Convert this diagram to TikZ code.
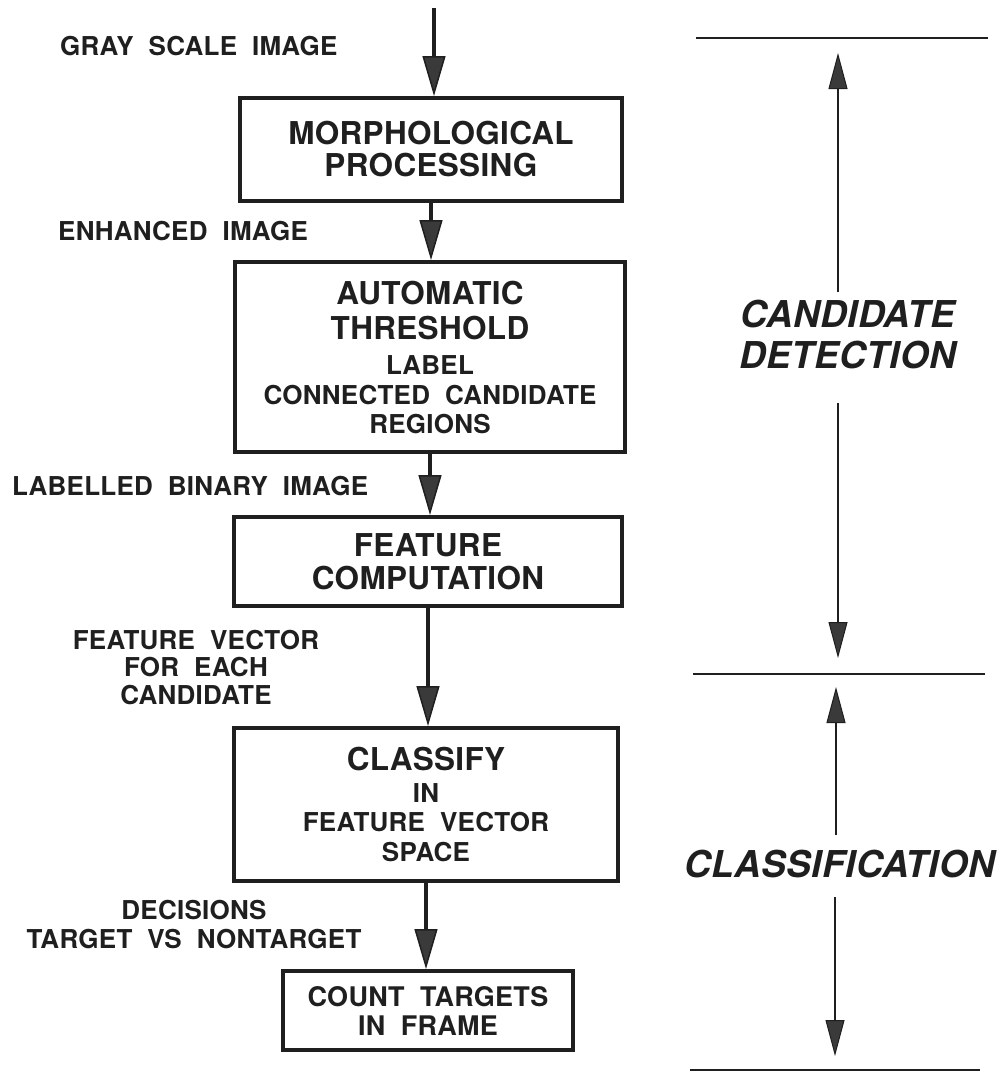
\documentclass[tikz,border=0pt]{standalone}
\usepackage{fontspec}
\setmainfont{TeX Gyre Heros}[WordSpace=2.0, LetterSpace=1.0]
\usetikzlibrary{arrows.meta}
\definecolor{ink}{HTML}{1F1F1F}
\definecolor{headfill}{HTML}{3A3A3A}
\newcommand\lsz{\fontsize{26}{29}\selectfont}
\begin{document}
\begin{tikzpicture}[x=1pt,y=-1pt,
  box/.style={draw=ink, line width=4pt, inner sep=0pt, align=center, text=ink,
              font=\bfseries\fontsize{31.5}{29}\selectfont},
  lab/.style={inner sep=0pt, align=center, text=ink, font=\bfseries\fontsize{26}{27.5}\selectfont},
  side/.style={inner sep=0pt, align=center, text=ink, font=\bfseries\itshape\fontsize{37}{41}\selectfont},
  flow/.style={draw=ink, line width=4pt, -{Triangle[length=40pt,width=23pt,line width=1.5pt,fill=headfill]}},
  span/.style={draw=ink, line width=2pt, -{Triangle[length=36pt,width=19pt,line width=1pt,fill=headfill]}},
  rule/.style={draw=ink, line width=2.5pt}]
\useasboundingbox (0,0) rectangle (1004,1074);

% process boxes
\node[box, minimum width=382pt, minimum height=103pt] (b1) at (431,149.5)
  {MORPHOLOGICAL\\[3pt]PROCESSING};
\node[box, minimum width=390pt, minimum height=190pt] (b2) at (430,357)
  {AUTOMATIC\\[6pt]THRESHOLD\\[6pt]{\lsz LABEL}\\[1pt]{\lsz CONNECTED CANDIDATE}\\{\lsz REGIONS}};
\node[box, minimum width=388pt, minimum height=89pt] (b3) at (428,561.5)
  {FEATURE\\[4pt]COMPUTATION};
\node[box, minimum width=384pt, minimum height=153pt] (b4) at (426,804.5)
  {CLASSIFY\\[3pt]{\lsz IN}\\{\lsz FEATURE VECTOR}\\[1pt]{\lsz SPACE}};
\node[box, minimum width=290pt, minimum height=79pt, font=\bfseries\fontsize{27}{29}\selectfont] (b5) at (428,1010.5)
  {COUNT TARGETS\\IN FRAME};

% flow arrows
\coordinate (in) at (434,8);
\draw[flow] (in) -- (in |- b1.north);
\draw[flow] (b1.south) -- (b1.south |- b2.north);
\draw[flow] (b2.south) -- (b2.south |- b3.north);
\draw[flow] (b3.south) -- (b3.south |- b4.north);
\draw[flow] (b4.south) -- (b4.south |- b5.north);

% data labels
\node[lab, anchor=base west] (l1) at (60,55) {GRAY SCALE IMAGE};
\node[lab, anchor=base west] (l2) at (58,240) {ENHANCED IMAGE};
\node[lab, anchor=base west] (l3) at (12,495) {LABELLED BINARY IMAGE};
\node[lab, anchor=north] (l4) at (196,630) {FEATURE VECTOR\\FOR EACH\\CANDIDATE};
\node[lab, anchor=north, font=\bfseries\fontsize{26}{29}\selectfont] (l5) at (194,900) {DECISIONS\\TARGET VS NONTARGET};

% stage brackets on the right
\coordinate (h1a) at (696,38);  \coordinate (h1b) at (988,38);
\coordinate (h2a) at (693,674); \coordinate (h2b) at (985,674);
\coordinate (h3a) at (690,1070); \coordinate (h3b) at (980,1070);
\draw[rule] (h1a) -- (h1b);
\draw[rule] (h2a) -- (h2b);
\draw[rule] (h3a) -- (h3b);

\node[side, anchor=north] (cd) at (848,300) {CANDIDATE\\DETECTION};
\node[side, anchor=base] (cl) at (840,877) {CLASSIFICATION};

\coordinate (p1) at (838,292);  \coordinate (q1) at (838,53);
\coordinate (p2) at (838,403);  \coordinate (q2) at (838,658);
\coordinate (p3) at (836,835);  \coordinate (q3) at (836,687);
\coordinate (p4) at (835,897);  \coordinate (q4) at (835,1056);
\draw[span] (p1) -- (q1);
\draw[span] (p2) -- (q2);
\draw[span] (p3) -- (q3);
\draw[span] (p4) -- (q4);
\end{tikzpicture}
\end{document}
